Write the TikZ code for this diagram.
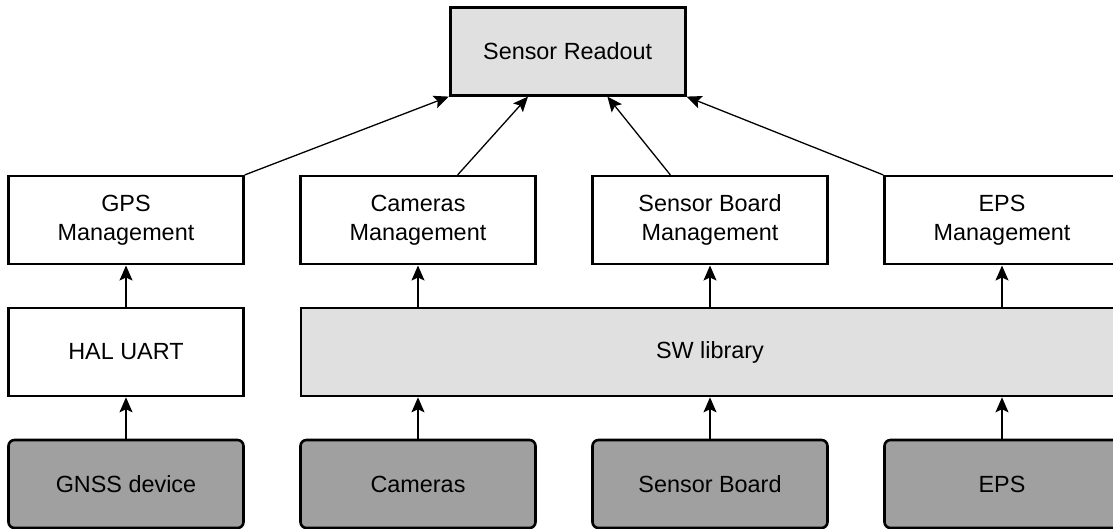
\documentclass[tikz,border=0pt]{standalone}
\usepackage{fontspec}
\setmainfont{Liberation Sans}
\usetikzlibrary{arrows.meta,calc}

\definecolor{softgray}{HTML}{E0E0E0}
\definecolor{devgray}{HTML}{A0A0A0}

\tikzset{
  block/.style={draw=black, line width=2.6pt, rectangle, minimum width=235pt,
    minimum height=88pt, inner sep=0pt, align=center,
    font=\fontsize{23.4}{29}\selectfont},
  module/.style={block, fill=white},
  core/.style={block, fill=softgray},
  device/.style={block, fill=devgray, rounded corners=6pt},
  link/.style={line width=1.3pt, -{Stealth[length=15pt,width=13pt,inset=3pt]}},
}

\begin{document}
\begin{tikzpicture}[x=1pt,y=-1pt]
  \useasboundingbox (0,0) rectangle (1113,529);
  \clip (0,0) rectangle (1113,529);

  % top level
  \node[core] (ro) at (567.7,51.3) {Sensor Readout};

  % management layer
  \node[module] (gpsm) at (126,220.2) {GPS\\Management};
  \node[module] (camm) at (418,220.2) {Cameras\\Management};
  \node[module] (sbm)  at (710,220.2) {Sensor Board\\Management};
  \node[module] (epsm) at (1002,220.2) {EPS\\Management};

  % drivers
  \node[module] (hal) at (126,352) {HAL UART};
  \node[core, minimum width=818pt] (sw) at (710,352) {SW library};

  % hardware
  \node[device] (gnss) at (126,484) {GNSS device};
  \node[device] (cams) at (418,484) {Cameras};
  \node[device] (sb)   at (710,484) {Sensor Board};
  \node[device] (eps)  at (1002,484) {EPS};

  % hardware to drivers
  \draw[link] (gnss.north) -- (hal.south);
  \draw[link] (cams.north) -- (cams.north |- sw.south);
  \draw[link] (sb.north) -- (sb.north |- sw.south);
  \draw[link] (eps.north) -- (eps.north |- sw.south);

  % drivers to management
  \draw[link] (hal.north) -- (gpsm.south);
  \draw[link] (camm.south |- sw.north) -- (camm.south);
  \draw[link] (sbm.south |- sw.north) -- (sbm.south);
  \draw[link] (epsm.south |- sw.north) -- (epsm.south);

  % management to readout
  \draw[link] (gpsm.north east) -- (ro.south west);
  \draw[link] ($(camm.north west)!0.667!(camm.north east)$) -- ($(ro.south west)!0.333!(ro.south east)$);
  \draw[link] ($(sbm.north west)!0.333!(sbm.north east)$) -- ($(ro.south west)!0.667!(ro.south east)$);
  \draw[link] (epsm.north west) -- (ro.south east);
\end{tikzpicture}
\end{document}
